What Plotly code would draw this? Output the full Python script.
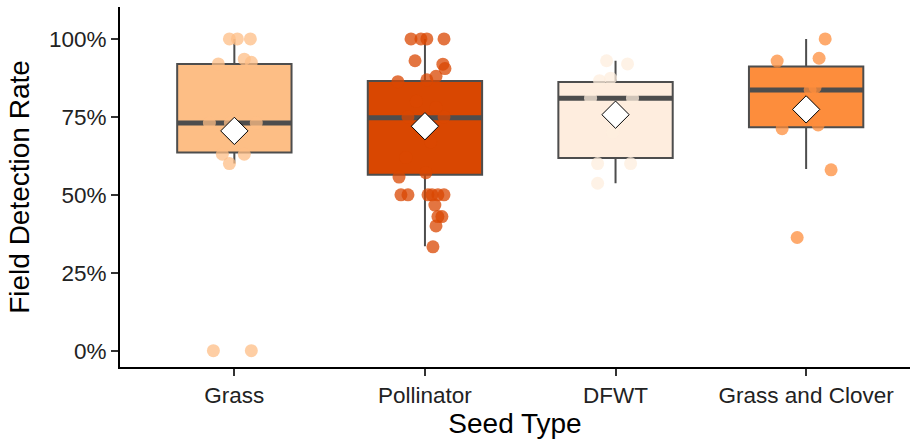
import plotly.graph_objects as go

# ---- data ----
categories = ["Grass", "Pollinator", "DFWT", "Grass and Clover"]
fill_colors = ["#FDBE85", "#D94701", "#FEEDDE", "#FD8D3C"]

# box statistics (proportion)
lower_whisker = [0.600, 0.335, 0.537, 0.583]
q1_vals = [0.636, 0.564, 0.618, 0.717]
median_vals = [0.730, 0.747, 0.810, 0.836]
q3_vals = [0.920, 0.865, 0.862, 0.912]
upper_whisker = [1.000, 1.000, 0.930, 1.000]
mean_vals = [0.705, 0.720, 0.757, 0.774]

# individual field detection rates
grass_vals = [1.0, 1.0, 1.0, 0.92, 0.935, 0.925, 0.73, 0.73, 0.73, 0.63, 0.63, 0.60, 0.0, 0.0]
grass_jitter = [-0.026, 0.016, 0.084, -0.084, 0.052, 0.089, -0.131, -0.021, 0.115, -0.063, 0.052, -0.026, -0.110, 0.089]

pollinator_vals = [1.0, 1.0, 1.0, 1.0, 0.93, 0.919, 0.905, 0.88, 0.869, 0.863,
                   0.75, 0.75, 0.80, 0.67, 0.62, 0.78, 0.70,
                   0.557, 0.571, 0.5, 0.5, 0.5, 0.5, 0.5, 0.5, 0.467, 0.43, 0.43, 0.40, 0.333]
pollinator_jitter = [-0.073, -0.021, 0.010, 0.100, -0.052, 0.094, 0.105, 0.058, 0.010, -0.142,
                     -0.089, 0.100, -0.045, 0.030, -0.100, 0.058, -0.020,
                     -0.136, 0.005, -0.126, -0.089, 0.016, 0.037, 0.068, 0.100, 0.052, 0.068, 0.089, 0.058, 0.042]

dfwt_vals = [0.93, 0.92, 0.866, 0.874, 0.81, 0.81, 0.70, 0.60, 0.60, 0.537]
dfwt_jitter = [-0.047, 0.063, -0.084, -0.026, -0.131, 0.089, -0.015, -0.094, 0.079, -0.094]

gc_vals = [1.0, 0.938, 0.929, 0.845, 0.837, 0.712, 0.724, 0.58, 0.363]
gc_jitter = [0.100, 0.068, -0.152, 0.047, 0.021, -0.126, 0.063, 0.131, -0.047]

point_vals = [grass_vals, pollinator_vals, dfwt_vals, gc_vals]
point_jitter = [grass_jitter, pollinator_jitter, dfwt_jitter, gc_jitter]

y_tick_vals = [0, 0.25, 0.5, 0.75, 1.0]
y_tick_text = ["0%", "25%", "50%", "75%", "100%"]

# ---- styling ----
BOX_W = 0.6
LINE_C = "#4D4D4D"
FONT = "Liberation Sans, Arial, sans-serif"

fig = go.Figure()
positions = list(range(1, len(categories) + 1))

for i, pos in enumerate(positions):
    fig.add_trace(go.Box(
        x=[pos], q1=[q1_vals[i]], median=[median_vals[i]], q3=[q3_vals[i]],
        lowerfence=[lower_whisker[i]], upperfence=[upper_whisker[i]],
        width=BOX_W, fillcolor=fill_colors[i],
        line=dict(color=LINE_C, width=2), whiskerwidth=0,
        boxpoints=False, showlegend=False, hoverinfo="skip"))

for i, pos in enumerate(positions):
    fig.add_trace(go.Scatter(
        x=[pos - BOX_W / 2, pos + BOX_W / 2], y=[median_vals[i], median_vals[i]],
        mode="lines", line=dict(color=LINE_C, width=5),
        showlegend=False, hoverinfo="skip"))

for i, pos in enumerate(positions):
    fig.add_trace(go.Scatter(
        x=[pos + j for j in point_jitter[i]], y=point_vals[i],
        mode="markers",
        marker=dict(size=13, color=fill_colors[i], opacity=0.75, line=dict(width=0)),
        showlegend=False))

fig.add_trace(go.Scatter(
    x=positions, y=mean_vals, mode="markers",
    marker=dict(symbol="diamond", size=21, color="white", line=dict(color="black", width=1)),
    showlegend=False))

fig.update_layout(
    width=910, height=443,
    margin=dict(l=120, r=0, t=7, b=76),
    paper_bgcolor="white", plot_bgcolor="white",
    font=dict(family=FONT, color="black"),
    xaxis=dict(
        range=[0.4, 4.545], tickvals=positions, ticktext=categories,
        showgrid=False, zeroline=False,
        showline=True, linecolor="black", linewidth=2,
        ticks="outside", ticklen=7, tickwidth=1.5, tickcolor="#333333",
        tickfont=dict(size=22.5, color="#222222", family=FONT),
        title=dict(text="Seed Type", font=dict(size=28, family=FONT), standoff=6),
    ),
    yaxis=dict(
        range=[-0.0525, 1.1025], tickvals=y_tick_vals, ticktext=y_tick_text,
        showgrid=False, zeroline=False,
        showline=True, linecolor="black", linewidth=2,
        ticks="outside", ticklen=7, tickwidth=1.5, tickcolor="#333333",
        tickfont=dict(size=22.5, color="#222222", family=FONT),
        title=dict(text="Field Detection Rate", font=dict(size=28, family=FONT), standoff=11),
    ),
)

fig.write_html("out.html")
